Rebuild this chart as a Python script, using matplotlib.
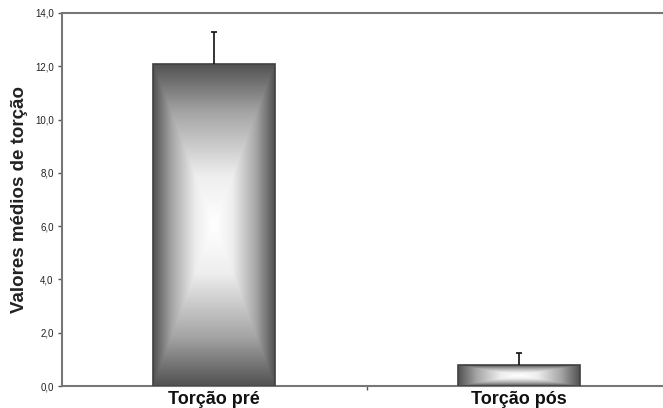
import matplotlib.pyplot as plt
import matplotlib.colors as mcolors
import numpy as np

categories = ["Torção pré", "Torção pós"]
means = [12.1, 0.78]
errors = [1.2, 0.45]
yticks = [0, 2, 4, 6, 8, 10, 12, 14]
ytick_labels = ["0,0", "2,0", "4,0", "6,0", "8,0", "10,0", "12,0", "14,0"]

plt.rcParams["font.family"] = ["Liberation Sans", "DejaVu Sans"]

fig = plt.figure(figsize=(6.63, 4.08), dpi=100)
ax = fig.add_axes([62 / 663, 22 / 408, 609 / 663, 373 / 408])

x = np.arange(len(categories))
bars = ax.bar(x, means, width=0.4, color="none", edgecolor="#404040", linewidth=1.2, zorder=3)
_, caps, _ = ax.errorbar(x, means, yerr=[np.zeros(len(errors)), errors], fmt="none",
                         ecolor="#111111", elinewidth=1.2, capsize=2.5, capthick=1.2, zorder=4)
caps[0].set_visible(False)  # only the upper cap

# rectangular "from center" gradient inside each bar
n = 200
u = np.linspace(-1, 1, n)
U, V = np.meshgrid(u, u)
grad = np.maximum(np.abs(U), np.abs(V))
cmap = mcolors.LinearSegmentedColormap.from_list(
    "g", [(0, "#ffffff"), (0.3, "#eeeeee"), (0.7, "#a4a4a4"), (1, "#525252")])
for b in bars:
    x0, y0, w, h = b.get_x(), b.get_y(), b.get_width(), b.get_height()
    im = ax.imshow(grad, cmap=cmap, extent=[x0, x0 + w, y0, y0 + h],
                   aspect="auto", zorder=2, interpolation="bilinear")
    im.set_clip_path(b)

ax.set_xlim(-0.5, 1.5)
ax.set_ylim(0, 14)
ax.set_yticks(yticks)
ax.set_yticklabels(ytick_labels, fontsize=7, color="#222222")
ax.set_xticks([0.5])
ax.set_xticklabels([""])
for i, c in enumerate(categories):
    ax.text(i, -0.2, c, ha="center", va="top", fontsize=13, fontweight="bold", color="#111111")

ax.tick_params(axis="y", length=3, width=1, color="#555555", pad=3)
ax.tick_params(axis="x", length=3, width=1, color="#555555")

for s in ["left", "bottom", "top"]:
    ax.spines[s].set_color("#777777")
    ax.spines[s].set_linewidth(1.5)
ax.spines["right"].set_visible(False)

fig.text(20 / 663, 0.51, "Valores médios de torção", rotation=90, ha="center", va="center",
         fontsize=13.5, fontweight="bold", color="#222222")

fig.savefig("out.png", dpi=100)
